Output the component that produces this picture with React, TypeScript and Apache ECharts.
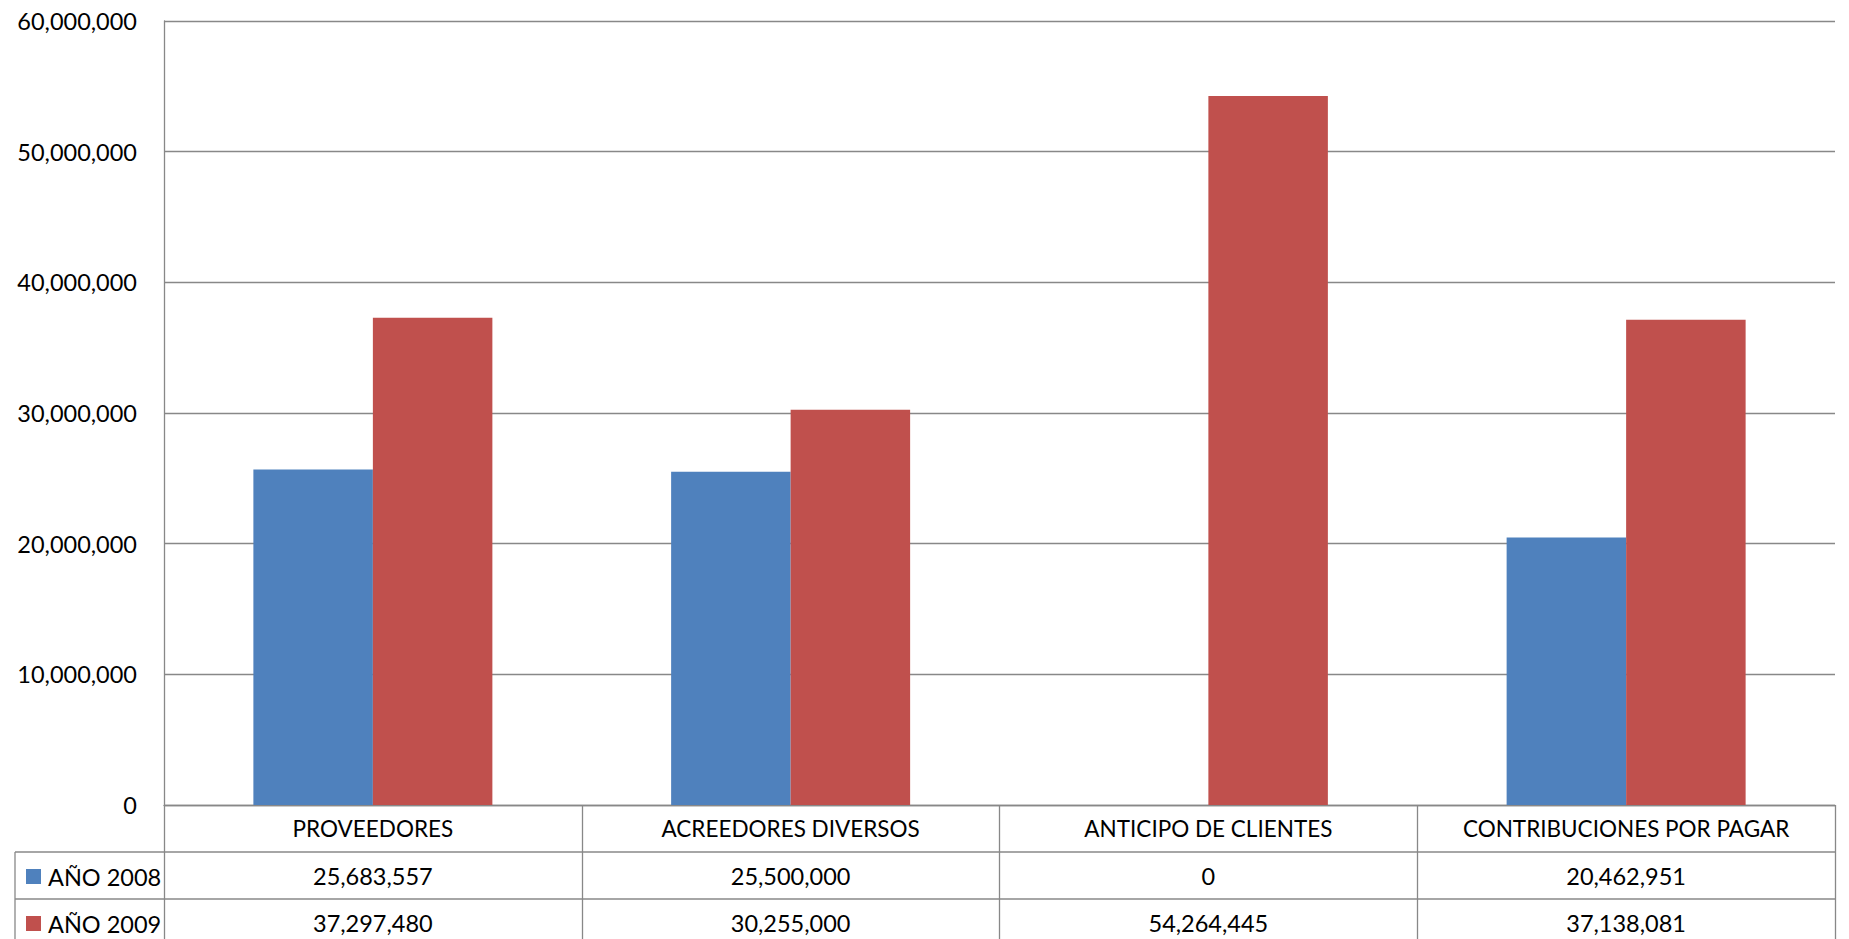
import React, { useEffect, useRef } from "react";
import * as echarts from "echarts";

const categories = [
  "PROVEEDORES",
  "ACREEDORES DIVERSOS",
  "ANTICIPO DE CLIENTES",
  "CONTRIBUCIONES POR PAGAR",
];
const seriesNames = ["AÑO 2008", "AÑO 2009"];
const values2008 = [25683557, 25500000, 0, 20462951];
const values2009 = [37297480, 30255000, 54264445, 37138081];
const colors = ["#4F81BD", "#C0504D"];

const FONT = "Lato, 'Noto Sans', sans-serif";
const FS = 23.5;
const ROW = 47;
const LINE = "#888888";

const fmt = (v: number) => v.toLocaleString("en-US");

export default function App() {
  const ref = useRef<HTMLDivElement>(null);

  useEffect(() => {
    const chart = echarts.init(ref.current!, null, { renderer: "svg" });
    const W = 1849;
    const gridLeft = 164;
    const gridRight = 14;
    const gridTop = 21;
    const gridBottom = 134;
    const zeroY = 939 - gridBottom;
    const tableLeft = 15;
    const tableRight = W - gridRight;

    // one legend per table row, so each key sits beside its own row of values
    const legends = seriesNames.map((name, i) => ({
      data: [name],
      orient: "vertical",
      left: 26,
      top: zeroY + ROW * (i + 1) + (ROW - 24) / 2 + 1,
      icon: "rect",
      itemWidth: 15,
      itemHeight: 15,
      selectedMode: false,
      padding: 0,
      textStyle: {
        fontFamily: FONT,
        fontSize: FS,
        color: "#000",
        lineHeight: 24,
        padding: [0, 0, 0, 2],
      },
    }));

    chart.setOption({
      animation: false,
      backgroundColor: "#ffffff",
      textStyle: { fontFamily: FONT },
      grid: { left: gridLeft, right: gridRight, top: gridTop, bottom: gridBottom, containLabel: false },
      legend: legends,
      xAxis: {
        type: "category",
        data: categories,
        axisLine: { show: true, lineStyle: { color: LINE, width: 1.3 } },
        axisTick: { show: true, length: gridBottom, alignWithLabel: false, lineStyle: { color: LINE, width: 1.3 } },
        axisLabel: {
          interval: 0,
          margin: 0,
          formatter: (_v: string, i: number) =>
            `{c|${categories[i]}}\n{v|${fmt(values2008[i])}}\n{v|${fmt(values2009[i])}}`,
          rich: {
            c: { fontFamily: FONT, fontSize: FS - 1, lineHeight: ROW, color: "#000" },
            v: { fontFamily: FONT, fontSize: FS, lineHeight: ROW, color: "#000" },
          },
        },
      },
      yAxis: {
        type: "value",
        min: 0,
        max: 60000000,
        interval: 10000000,
        axisLine: { show: true, lineStyle: { color: LINE, width: 1.3 } },
        axisTick: { show: false },
        splitLine: { show: true, lineStyle: { color: LINE, width: 1.3 } },
        axisLabel: {
          margin: 27,
          fontFamily: FONT,
          fontSize: FS,
          color: "#000",
          formatter: (v: number) => fmt(v),
        },
      },
      series: [
        {
          name: seriesNames[0],
          type: "bar",
          data: values2008,
          barWidth: 119.5,
          barGap: "0%",
          itemStyle: { color: colors[0] },
        },
        {
          name: seriesNames[1],
          type: "bar",
          data: values2009,
          barWidth: 119.5,
          barGap: "0%",
          itemStyle: { color: colors[1] },
        },
      ],
      graphic: [
        // data table row separators and the legend column border
        {
          type: "line",
          silent: true,
          shape: { x1: tableLeft, y1: zeroY + ROW, x2: tableRight, y2: zeroY + ROW },
          style: { stroke: LINE, lineWidth: 1.3 },
        },
        {
          type: "line",
          silent: true,
          shape: { x1: tableLeft, y1: zeroY + 2 * ROW, x2: tableRight, y2: zeroY + 2 * ROW },
          style: { stroke: LINE, lineWidth: 1.3 },
        },
        {
          type: "line",
          silent: true,
          shape: { x1: tableLeft, y1: zeroY + ROW, x2: tableLeft, y2: 939 },
          style: { stroke: LINE, lineWidth: 1.3 },
        },
      ],
    });

    return () => chart.dispose();
  }, []);

  return (
    <div
      ref={ref}
      style={{ position: "absolute", left: 0, top: 0, width: 1849, height: 939, background: "#fff" }}
    />
  );
}
